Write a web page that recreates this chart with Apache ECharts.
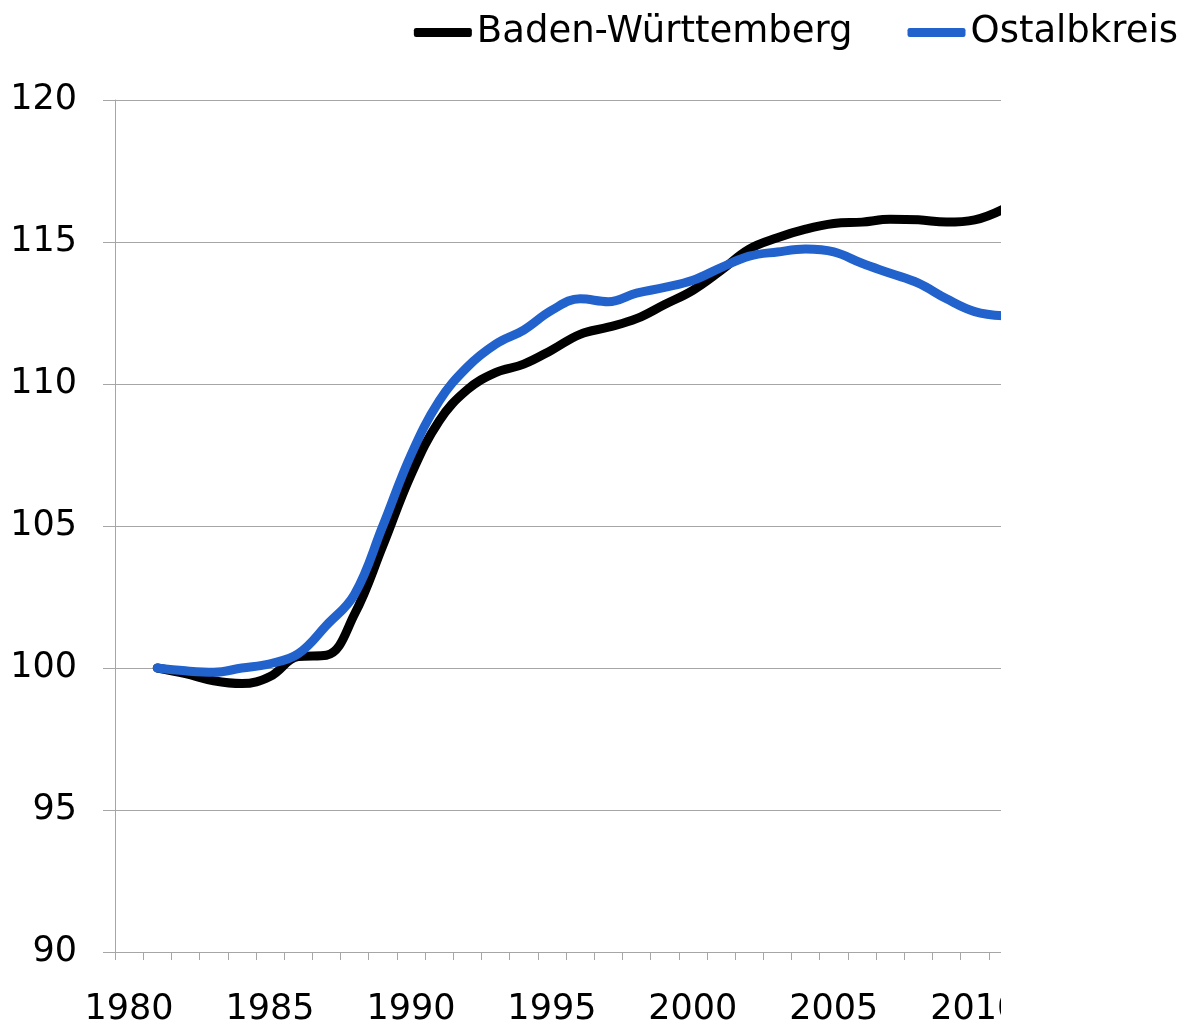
<!DOCTYPE html>
<html>
<head>
<meta charset="utf-8">
<script src="https://cdn.jsdelivr.net/npm/echarts@6/dist/echarts.min.js"></script>
<style>
  html, body { margin:0; padding:0; background:#fff; }
  #chart { width:1189px; height:1027px; }
</style>
</head>
<body>
<div id="chart"></div>
<script>
// Index 1981 = 100
const years = ['1980','1981','1982','1983','1984','1985','1986','1987','1988','1989',
  '1990','1991','1992','1993','1994','1995','1996','1997','1998','1999',
  '2000','2001','2002','2003','2004','2005','2006','2007','2008','2009','2010','2011'];
const badenWuerttemberg = [null, 100, 99.8, 99.55, 99.45, 99.7, 100.4, 100.45, 101.9, 104.3,
  106.8, 108.7, 109.8, 110.4, 110.7, 111.2, 111.75, 112.0, 112.3, 112.8,
  113.3, 114.0, 114.75, 115.15, 115.45, 115.65, 115.7, 115.8, 115.78, 115.7, 115.78, 116.15];
const ostalbkreis = [null, 100, 99.9, 99.85, 100.0, 100.15, 100.5, 101.5, 102.6, 105.0,
  107.5, 109.4, 110.6, 111.4, 111.9, 112.6, 113.0, 112.9, 113.2, 113.4,
  113.65, 114.1, 114.5, 114.65, 114.75, 114.65, 114.25, 113.9, 113.55, 113.0, 112.55, 112.4];

const FONT = "'DejaVu Sans', Verdana, sans-serif";
const GRID = '#a6a6a6';
const BLUE = '#2262cc';

const chart = echarts.init(document.getElementById('chart'), null, { renderer:'canvas' });
chart.setOption({
  backgroundColor:'#ffffff',
  animation:false,
  grid:{ left:115, right:172, top:100, bottom:75, containLabel:false },
  legend:{
    top:9, right:6, itemWidth:58, itemHeight:9, itemGap:55, icon:'roundRect',
    textStyle:{ color:'#000', fontFamily:FONT, fontSize:37 },
    data:['Baden-Württemberg','Ostalbkreis']
  },
  xAxis:{
    type:'category', data:years, boundaryGap:true,
    axisLine:{ show:true, onZero:false, lineStyle:{ color:GRID, width:1 } },
    axisTick:{ show:true, inside:false, interval:0, length:8, lineStyle:{ color:GRID, width:1 } },
    axisLabel:{ interval:4, margin:40, color:'#000', fontFamily:FONT, fontSize:35 },
    splitLine:{ show:false }
  },
  yAxis:{
    type:'value', min:90, max:120, interval:5,
    axisLine:{ show:true, lineStyle:{ color:GRID, width:1 } },
    axisTick:{ show:true, inside:false, length:12, lineStyle:{ color:GRID, width:1 } },
    axisLabel:{ margin:38, color:'#000', fontFamily:FONT, fontSize:35 },
    splitLine:{ lineStyle:{ color:GRID, width:1 } }
  },
  series:[
    { name:'Baden-Württemberg', type:'line', data:badenWuerttemberg, smooth:0.4,
      showSymbol:false, color:'#000000',
      lineStyle:{ width:9, color:'#000000', cap:'round', join:'round' } },
    { name:'Ostalbkreis', type:'line', data:ostalbkreis, smooth:0.4,
      showSymbol:false, color:BLUE,
      lineStyle:{ width:9, color:BLUE, cap:'round', join:'round' } }
  ],
  // the source figure is cropped just right of 2011
  graphic:[{ type:'rect', z:100, shape:{ x:1001, y:70, width:188, height:957 },
    style:{ fill:'#ffffff' } }]
});
</script>
</body>
</html>
